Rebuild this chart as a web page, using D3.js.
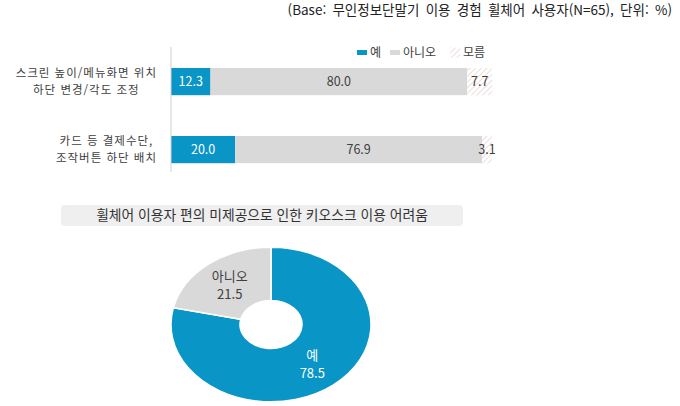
<!DOCTYPE html>
<html lang="ko">
<head>
<meta charset="utf-8">
<script src="https://cdn.jsdelivr.net/npm/d3@7"></script>
<style>
  html, body { margin: 0; padding: 0; background: #fff; }
  svg { display: block; font-family: "Noto Sans CJK KR", "Noto Sans", sans-serif; }
</style>
</head>
<body>
<svg id="chart" width="680" height="406"></svg>
<script>
// --- data ---------------------------------------------------------------
const subtitle = "(Base: 무인정보단말기 이용 경험 휠체어 사용자(N=65), 단위: %)";
const seriesNames = ["예", "아니오", "모름"];
const barCategories = [
  ["스크린 높이/메뉴화면 위치", "하단 변경/각도 조정"],
  ["카드 등 결제수단,", "조작버튼 하단 배치"]
];
const yesValues = [12.3, 20.0];
const noValues = [80.0, 76.9];
const dontKnowValues = [7.7, 3.1];

const donutTitle = "휠체어 이용자 편의 미제공으로 인한 키오스크 이용 어려움";
const donutLabels = ["예", "아니오"];
const donutValues = [78.5, 21.5];

// --- styling ------------------------------------------------------------
const BLUE = "#0a95c7";
const GRAY = "#d9d9d9";
const TEXT = "#404040";

const svg = d3.select("#chart");

// hatch pattern for the "모름" segment
const defs = svg.append("defs");
const pat = defs.append("pattern")
  .attr("id", "hatch")
  .attr("patternUnits", "userSpaceOnUse")
  .attr("width", 4).attr("height", 4)
  .attr("patternTransform", "rotate(45)");
pat.append("rect").attr("width", 4).attr("height", 4).attr("fill", "#fff");
pat.append("line").attr("x1", 0).attr("y1", 0).attr("x2", 0).attr("y2", 4)
  .attr("stroke", "#ecd3d3").attr("stroke-width", 1.6);

// subtitle
svg.append("text")
  .attr("x", 672).attr("y", 15)
  .attr("text-anchor", "end")
  .attr("font-size", 13.5)
  .attr("word-spacing", 2.5)
  .attr("fill", "#222")
  .text(subtitle);

// --- stacked bar chart ----------------------------------------------------
const x = d3.scaleLinear().domain([0, 100]).range([171, 492]);
const y = d3.scaleBand()
  .domain(d3.range(barCategories.length))
  .range([47.6, 183.6])
  .paddingInner(0.6)
  .paddingOuter(0.3);

const stackRows = barCategories.map((c, i) => ({
  idx: i, "예": yesValues[i], "아니오": noValues[i], "모름": dontKnowValues[i]
}));
const stacked = d3.stack().keys(seriesNames)(stackRows);
const fills = { "예": BLUE, "아니오": GRAY, "모름": "url(#hatch)" };
const labelColors = { "예": "#fff", "아니오": TEXT, "모름": TEXT };

const barG = svg.append("g");
stacked.forEach(layer => {
  const key = layer.key;
  const g = barG.append("g");
  g.selectAll("rect")
    .data(layer)
    .join("rect")
    .attr("x", d => x(d[0]))
    .attr("y", d => y(d.data.idx))
    .attr("width", d => x(d[1]) - x(d[0]))
    .attr("height", y.bandwidth())
    .attr("fill", fills[key]);
  g.selectAll("text")
    .data(layer)
    .join("text")
    .attr("x", d => (x(d[0]) + x(d[1])) / 2)
    .attr("y", d => y(d.data.idx) + y.bandwidth() / 2)
    .attr("dy", "0.35em")
    .attr("text-anchor", "middle")
    .attr("font-size", 12.5)
    .attr("fill", labelColors[key])
    .text(d => d.data[key].toFixed(1));
});

// vertical baseline axis
svg.append("line")
  .attr("x1", x(0)).attr("x2", x(0))
  .attr("y1", 47).attr("y2", 172)
  .attr("stroke", "#d0d0d0").attr("stroke-width", 1);

// category labels: block right-aligned next to the axis, lines centered
const catG = svg.append("g");
barCategories.forEach((lines, i) => {
  const cy = y(i) + y.bandwidth() / 2;
  const spans = lines.map((ln, j) => catG.append("text")
    .attr("font-size", 11.5)
    .attr("letter-spacing", 1)
    .attr("fill", TEXT)
    .attr("text-anchor", "middle")
    .attr("y", cy + (j - (lines.length - 1) / 2) * 16.8)
    .attr("dy", "0.35em")
    .text(ln));
  const maxW = d3.max(spans, s => s.node().getComputedTextLength());
  spans.forEach(s => s.attr("x", 157 - maxW / 2));
});

// legend
const legendX = [357, 390, 450];
const legend = svg.append("g");
seriesNames.forEach((name, i) => {
  const lg = legend.append("g").attr("transform", `translate(${legendX[i]},52.5)`);
  if (name === "모름") {
    lg.append("rect").attr("x", 0).attr("y", -5).attr("width", 10).attr("height", 10)
      .attr("fill", "url(#hatch)");
  } else {
    lg.append("rect").attr("x", 0).attr("y", -2.5).attr("width", 10).attr("height", 5)
      .attr("fill", fills[name]);
  }
  lg.append("text")
    .attr("x", 13).attr("dy", "0.35em")
    .attr("font-size", 12)
    .attr("fill", TEXT)
    .text(name);
});

// --- donut chart ----------------------------------------------------------
svg.append("rect")
  .attr("x", 61).attr("y", 205)
  .attr("width", 402).attr("height", 21)
  .attr("rx", 4)
  .attr("fill", "#efefef");
svg.append("text")
  .attr("x", 262).attr("y", 215.5)
  .attr("dy", "0.35em")
  .attr("text-anchor", "middle")
  .attr("font-size", 13.8)
  .attr("fill", "#333")
  .text(donutTitle);

const R = 100;
const squash = 0.773;
const pie = d3.pie().sort(null).value(d => d.value);
const arcs = pie(donutLabels.map((l, i) => ({ label: l, value: donutValues[i] })));
const arc = d3.arc().innerRadius(31).outerRadius(R);
const donutColors = [BLUE, GRAY];

const donutG = svg.append("g").attr("transform", `translate(271,324.5)`);
donutG.append("g")
  .attr("transform", `scale(1,${squash})`)
  .selectAll("path")
  .data(arcs)
  .join("path")
  .attr("d", arc)
  .attr("fill", (d, i) => donutColors[i])
  .attr("stroke", "#fff")
  .attr("stroke-width", 1.5)
  .attr("vector-effect", "non-scaling-stroke");

// slice labels (name above, value below) placed along the ring
const labelArc = d3.arc().innerRadius(66).outerRadius(66);
const labelColorsDonut = ["#fff", TEXT];
arcs.forEach((a, i) => {
  const [cx, cy] = labelArc.centroid(a);
  donutG.append("text")
    .attr("x", cx).attr("y", cy * squash - 8.5)
    .attr("dy", "0.35em")
    .attr("text-anchor", "middle")
    .attr("font-size", 13)
    .attr("fill", labelColorsDonut[i])
    .text(a.data.label);
  donutG.append("text")
    .attr("x", cx).attr("y", cy * squash + 9.5)
    .attr("dy", "0.35em")
    .attr("text-anchor", "middle")
    .attr("font-size", 13)
    .attr("fill", labelColorsDonut[i])
    .text(a.data.value.toFixed(1));
});
</script>
</body>
</html>
